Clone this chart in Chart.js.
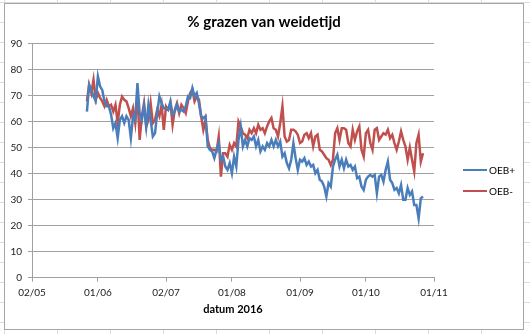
<!DOCTYPE html>
<html>
<head>
<meta charset="utf-8">
<script src="https://cdn.jsdelivr.net/npm/chart.js@4.4.0/dist/chart.umd.min.js"></script>
<style>
  html, body { margin: 0; padding: 0; }
  body {
    width: 530px; height: 334px; overflow: hidden; position: relative;
    background-color: #fff;
    /* spreadsheet cells behind the chart */
    background-image:
      linear-gradient(to right, #dcdcdc 1px, transparent 1px),
      linear-gradient(to bottom, #dcdcdc 1px, transparent 1px);
    background-size: 53px 20px;
    background-position: 4px 2px;
  }
  #kader {
    position: absolute; left: 4px; top: 3px;
    width: 518px; height: 325px;
    border: 1px solid #a6a6a6; background: #fff;
  }
  #grafiek { display: block; }
  #legenda {
    position: absolute; left: 463px; top: 164px;
    font: 10px Lato, sans-serif; color: #000;
  }
  #legenda div { display: flex; align-items: center; height: 12px; margin-bottom: 9px; }
  #legenda i { display: inline-block; width: 24px; height: 2.5px; margin-right: 2px; }
</style>
</head>
<body>
<div id="kader"><canvas id="grafiek" width="518" height="325"></canvas></div>
<div id="legenda"></div>
<script>
// dagnummer (2016) van de eerste meting: 27 mei
const eersteDag = 148;

// % grazen van weidetijd, per dag
const oebPlus = [
  63.8, 74, 72, 69.6, 68, 77.3, 73.5, 72, 67.7, 65.8,
  65.8, 62.6, 57.4, 59.4, 53.6, 60.6, 62, 59.4, 62, 60.6,
  53.6, 62, 60.6, 74.7, 63.2, 60.6, 65.8, 58, 66.4, 60.6,
  54.2, 55.5, 63.2, 69.6, 67, 65.1, 65.1, 64.5, 67.7, 62.6,
  63.8, 66.4, 63.8, 64.5, 63.8, 65.8, 69.6, 69, 72.8, 69.6,
  70.9, 67, 62, 61.3, 62, 50.4, 49.1, 48.5, 45.9, 49.1,
  51.7, 45.3, 46.5, 42.7, 41.4, 44, 40.1, 46.5, 42.7, 52.9,
  58.1, 50.4, 52.9, 50.4, 53.6, 52.9, 54.2, 50.4, 52.9, 48.5,
  50.4, 49.1, 51.7, 50.4, 52.9, 50.4, 52.9, 50.4, 52.3, 46.5,
  47.8, 44, 42, 45.3, 51.7, 45.9, 41.4, 45.3, 44.6, 45.9,
  43.3, 44.6, 42.7, 43.3, 40.1, 41.4, 37.6, 36.9, 35, 31.2,
  36.3, 35, 42.7, 45.3, 47.2, 42.7, 45.3, 42, 45.3, 42.7,
  43.3, 41.4, 42.7, 38.2, 38.8, 35, 33.7, 37.6, 38.8, 39.5,
  38.8, 39.5, 32.4, 38.8, 39.5, 36.9, 41.4, 44.6, 37.6, 36.3,
  33.7, 34.4, 32.4, 35.6, 29.9, 29.9, 34.4, 31.8, 33.1, 27.9,
  27.9, 22.8, 30.5, 31.2
];
const oebMin = [
  67.7, 74.1, 70.9, 76, 68.3, 70.9, 69, 67.7, 65.8, 68.3,
  65.8, 66.4, 63.8, 66.4, 59.4, 66.4, 69.6, 68.3, 67.7, 65.1,
  62, 65.1, 59.4, 70.9, 52.9, 62, 67, 58, 60.6, 67,
  59.4, 60.6, 64.5, 62, 66.4, 56.8, 65.8, 64.5, 67, 58.7,
  64.5, 67, 63.2, 66.4, 65.1, 63.2, 67.7, 70.9, 72.2, 67.7,
  69.6, 68.3, 62, 56.8, 60.6, 52.9, 49.7, 49.1, 49.1, 48.5,
  54.2, 38.8, 47.8, 47.8, 46.5, 51, 49.1, 51.7, 50.4, 60,
  58.1, 55.5, 54.9, 53.6, 56.8, 55.5, 57.4, 55.5, 58.7, 56.8,
  57.4, 55.5, 58.1, 60, 61.3, 57.4, 56.8, 54.2, 59.4, 65.8,
  54.2, 52.3, 52.9, 56.8, 56.8, 56.2, 54.9, 51.7, 52.3, 54.9,
  55.5, 53.6, 55.5, 50.4, 54.2, 54.9, 49.1, 48.5, 47.2, 45.9,
  45.3, 43.3, 45.3, 55.5, 57.4, 52.9, 57.4, 57.4, 56.8, 51.7,
  50.4, 56.8, 52.9, 56.2, 58.1, 49.1, 46.5, 55.5, 56.8, 51.7,
  49.1, 56.8, 57.4, 52.9, 54.2, 55.5, 54.9, 56.8, 53.6, 54.9,
  51.7, 49.1, 52.3, 56.2, 52.9, 50.4, 45.3, 50, 45.3, 40.8,
  51.7, 54.9, 44.6, 47.8
];

// datumas: dagnummers met hun labels
const tickDagen = [123, 153, 184, 214, 245, 275, 306];
const tickLabels = ['02/05', '01/06', '02/07', '01/08', '01/09', '01/10', '01/11'];

const punten = reeks => reeks.map((v, i) => ({ x: eersteDag + i, y: v }));

const lijnKleur = '#a0a0a0';
const tekstFont = { family: 'Lato', size: 10 };

const grafiek = new Chart(document.getElementById('grafiek'), {
  type: 'line',
  data: {
    datasets: [
      { label: 'OEB+', data: punten(oebPlus), borderColor: '#4a7ebb', borderWidth: 2.5, pointRadius: 0, tension: 0 },
      { label: 'OEB-', data: punten(oebMin), borderColor: '#c0504d', borderWidth: 2.5, pointRadius: 0, tension: 0 }
    ]
  },
  options: {
    responsive: false,
    animation: false,
    layout: { padding: 0 },
    plugins: {
      legend: { display: false },
      tooltip: { enabled: false },
      title: {
        display: true,
        text: '% grazen van weidetijd',
        color: '#000',
        font: { family: 'Lato', size: 15, weight: 'bold' },
        padding: { top: 9, bottom: 12.3 }
      }
    },
    scales: {
      x: {
        type: 'linear',
        min: 123,
        max: 306,
        afterBuildTicks: s => { s.ticks = tickDagen.map(v => ({ value: v })); },
        afterFit: s => { s.height = 51.3; },
        ticks: {
          callback: v => tickLabels[tickDagen.indexOf(v)],
          font: tekstFont, color: '#222', padding: 5,
          maxRotation: 0, autoSkip: false
        },
        grid: { drawOnChartArea: false, tickLength: 4, color: lijnKleur },
        border: { color: lijnKleur },
        title: {
          display: true, text: 'datum 2016', color: '#000',
          font: { family: 'Lato', size: 11, weight: 'bold' },
          padding: { top: 4, bottom: 13 }
        }
      },
      y: {
        min: 0,
        max: 90,
        afterFit: s => { s.width = 27; },
        ticks: { stepSize: 10, font: tekstFont, color: '#222', padding: 6 },
        grid: { color: lijnKleur, tickLength: 4 },
        border: { color: lijnKleur }
      },
      // lege as rechts: ruimte voor de legenda
      legendaRuimte: {
        type: 'linear',
        position: 'right',
        afterFit: s => { s.width = 89; },
        ticks: { display: false },
        grid: { display: false },
        border: { display: false }
      }
    }
  }
});

// legenda naast de grafiek
const legenda = document.getElementById('legenda');
grafiek.data.datasets.forEach(ds => {
  const rij = document.createElement('div');
  const streep = document.createElement('i');
  streep.style.background = ds.borderColor;
  rij.appendChild(streep);
  rij.appendChild(document.createTextNode(ds.label));
  legenda.appendChild(rij);
});
</script>
</body>
</html>
